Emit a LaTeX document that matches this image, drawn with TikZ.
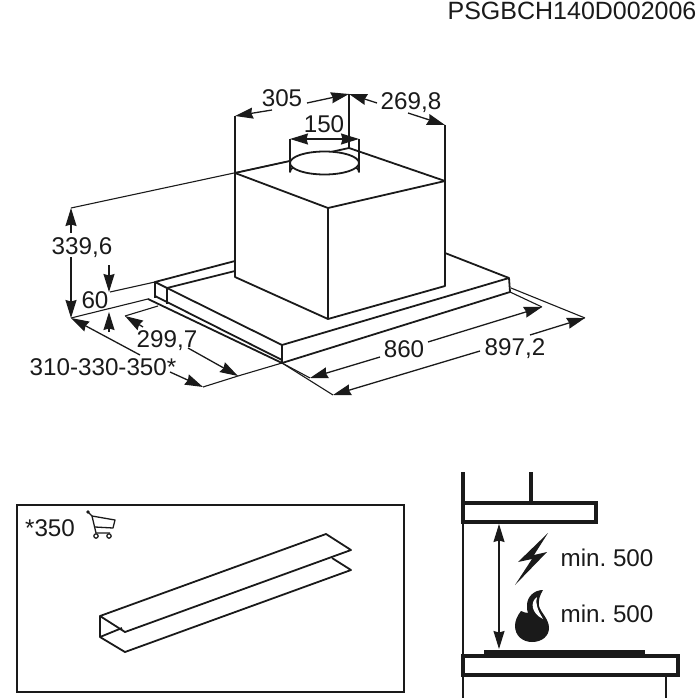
\documentclass[tikz,border=0pt]{standalone}
\usepackage{fontspec}
\setmainfont{Liberation Sans}
\usetikzlibrary{arrows.meta}
\definecolor{ink}{HTML}{1A1A1A}

\begin{document}
\begin{tikzpicture}[%
    x=1pt,y=-1pt,>={Stealth[length=18pt,width=11pt,inset=1.5pt]},ink,
    label/.style={inner sep=0pt,text=ink,font=\fontsize{24.2}{25}\selectfont\frenchspacing},
    heavy/.style={line width=1.8pt,line join=round},
    thin line/.style={line width=1.1pt},
    dim/.style={line width=1.3pt,->},
    wall/.style={line width=3.2pt,line join=miter}
  ]
    \useasboundingbox (0,0) rectangle (700,700);
    \node[label,font=\fontsize{25}{25}\selectfont] (code) at (572,10.5) {PSGBCH140D002006};

    % plate
    \coordinate (lipa) at (155,282);
    \coordinate (lipb) at (167,288);
    \coordinate (front) at (282,345);
    \coordinate (frontlow) at (282,363);
    \coordinate (right) at (509,278);
    \coordinate (rightlow) at (510,292);
    \draw[heavy] (235,261) -- (lipa) -- (lipb) -- (front) -- (right) -- (445,253);
    \draw[heavy] (lipb) -- (235,271);
    \draw[heavy] (lipa) -- (155,298);
    \draw[heavy] (lipb) -- (167,304);
    \draw[heavy] (front) -- (frontlow) -- (rightlow) -- (right);
    \draw[heavy] (148,299) -- (frontlow);
    \draw[heavy] (155,296) -- (282,360);

    % box and outlet
    \coordinate (boxa) at (235,173);
    \coordinate (boxb) at (349,148);
    \coordinate (boxc) at (445,181);
    \coordinate (boxd) at (328,208);
    \coordinate (boxe) at (235,277);
    \coordinate (boxf) at (328,319);
    \coordinate (boxg) at (445,286);
    \draw[heavy,fill=white] (boxa) -- (boxb) -- (boxc) -- (boxg) -- (boxf) -- (boxe) -- cycle;
    \draw[heavy] (boxa) -- (boxd) -- (boxc);
    \draw[heavy] (boxd) -- (boxf);
    \draw[heavy,fill=white] (290,163) -- (290,172) arc[start angle=180,end angle=360,x radius=34.5,y radius=11] -- (359,163) -- cycle;
    \draw[heavy,fill=white] (324.5,163) ellipse[x radius=34.5,y radius=11.5];

    % dimensions
    \coordinate (upa) at (235,116);
    \coordinate (upb) at (349,94);
    \coordinate (upc) at (445,125);
    \coordinate (outa) at (290,139);
    \coordinate (outb) at (359,139);
    \coordinate (high) at (71,208);
    \coordinate (base) at (71,318);
    \coordinate (mida) at (125,316);
    \coordinate (midb) at (238,376);
    \coordinate (botb) at (203,387);
    \coordinate (wida) at (310,378);
    \coordinate (widb) at (542,307);
    \coordinate (widc) at (333,395);
    \coordinate (widd) at (585,318);
    \draw[thin line] (upa) -- (boxa);
    \draw[thin line] (upb) -- (boxb);
    \draw[thin line] (upc) -- (boxc);
    \draw[thin line] (outa) -- (290,163);
    \draw[thin line] (outb) -- (359,163);
    \draw[thin line] (high) -- (290,161);
    \draw[thin line] (110,292) -- (lipa);
    \draw[thin line] (base) -- (148,299);
    \draw[thin line] (mida) -- (158,306);
    \draw[thin line] (botb) -- (midb) -- (frontlow);
    \draw[thin line] (frontlow) -- (wida);
    \draw[thin line] (frontlow) -- (widc);
    \draw[thin line] (rightlow) -- (widb);
    \draw[thin line] (511,288) -- (widd);

    \node[label] (w305) at (282,98) {305};
    \node[label] (w269) at (411,103) {269,8};
    \node[label] (w150) at (324,124) {150};
    \node[label] (h339) at (82,248) {339,6};
    \node[label] (h60) at (95,300) {60};
    \node[label] (d299) at (167,341) {299,7};
    \node[label] (d310) at (103,367) {310-330-350*};
    \node[label] (l860) at (404,349) {860};
    \node[label] (l897) at (515,349) {897,2};

    \draw[dim] (272,110) -- (upa);
    \draw[dim] (307,103) -- (upb);
    \draw[dim] (377,103) -- (upb);
    \draw[dim] (408,113) -- (upc);
    \draw[<->,line width=1.3pt] (outa) -- (outb);
    \draw[dim] (71,233) -- (high);
    \draw[dim] (71,257) -- (base);
    \draw[dim] (109,265) -- (109,292);
    \draw[dim] (109,332) -- (109,312);
    \draw[dim] (143,327) -- (mida);
    \draw[dim] (188,348) -- (midb);
    \draw[dim] (140,355) -- (base);
    \draw[dim] (170,372) -- (botb);
    \draw[dim] (380,357) -- (wida);
    \draw[dim] (428,342) -- (widb);
    \draw[dim] (480,351) -- (widc);
    \draw[dim] (530,335) -- (widd);

    % accessory panel
    \draw[line width=1.6pt] (17,505) rectangle (404,692);
    \node[label] (star) at (50,528) {*350};
    \draw[line width=1.3pt,line join=round] (92,516) -- (115,520) -- (113,528) -- (95,527);
    \draw[line width=1.3pt] (92,516) -- (96,533) -- (110,533);
    \fill (88,512) circle[radius=1.8];
    \draw[line width=1.3pt] (88,512) -- (92,516);
    \draw[line width=1.2pt] (96,536) circle[radius=2.2];
    \draw[line width=1.2pt] (109,536) circle[radius=2.2];
    \draw[heavy] (100,616) -- (326,534) -- (351,550) -- (125,632) -- cycle;
    \draw[heavy] (100,616) -- (100,637) -- (125,652) -- (351,570) -- (332,558);
    \draw[heavy] (100,637) -- (122,628);

    % clearance
    \draw[wall] (463,472) -- (463,503);
    \draw[wall] (531,472) -- (531,503);
    \draw[wall] (463,503) rectangle (596,522);
    \draw[thin line] (463,522) -- (463,656);
    \draw[wall] (463,656) rectangle (678,675);
    \draw[thin line] (463,675) -- (463,698);
    \draw[thin line] (666,675) -- (666,698);
    \fill (484,650) rectangle (645,656);
    \draw[<->,line width=1.2pt] (499,524) -- (499,649);
    \fill (548,533) -- (518,562) -- (532,559) -- (515,585) -- (547,552) -- (534,555) -- cycle;
    \fill (543,590) .. controls (534,590) and (527,597) .. (527,605)
      .. controls (527,609) and (527,611) .. (528,613)
      .. controls (526,613) and (523,612) .. (521,611)
      .. controls (517,616) and (515,621) .. (515,626)
      .. controls (515,636) and (523,642) .. (532,642)
      .. controls (542,642) and (549,636) .. (549,628)
      .. controls (549,619) and (541,613) .. (539,606)
      .. controls (538,600) and (540,595) .. (543,590) -- cycle;
    \fill[white] (537,597) .. controls (533,600) and (532,604) .. (533,608)
      .. controls (534,612) and (537,616) .. (543,619)
      .. controls (541,615) and (538,611) .. (537,606)
      .. controls (536,603) and (536,600) .. (537,597) -- cycle;
    \node[label] (elec) at (607,558) {min. 500};
    \node[label] (gas) at (607,614) {min. 500};
  \end{tikzpicture}
\end{document}
